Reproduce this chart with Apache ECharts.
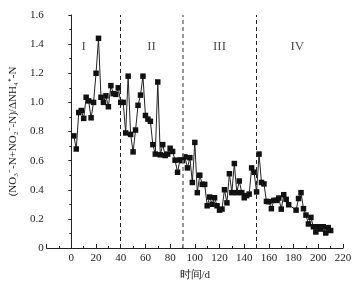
<!DOCTYPE html>
<html><head><meta charset="utf-8">
<script src="https://cdn.jsdelivr.net/npm/echarts@6/dist/echarts.min.js"></script>
<style>html,body{margin:0;padding:0;background:#fff}#c{width:358px;height:286px}</style>
</head><body><div id="c"></div>
<script>
var days = [2,4,6,8,10,12,14,16,18,20,22,24,26,28,30,32,34,36,38,40,42,44,46,48,50,52,54,56,58,60,62,64,66,68,70,72,74,76,78,80,82,84,86,88,90,92,94,96,98,100,102,104,106,108,110,112,114,116,118,120,122,124,126,128,130,132,134,136,138,140,142,144,146,148,150,152,154,156,158,160,162,164,166,168,170,172,174,176,182,184,186,188,190,192,194,196,198,200,202,204,206,208,210];
var ratio = [0.77,0.68,0.93,0.944,0.89,1.035,1.01,0.894,1.0,1.2,1.44,1.035,1.0,1.045,0.97,1.115,1.06,1.055,1.1,1.0,1.0,0.79,1.18,0.78,0.66,0.81,0.98,1.05,1.18,0.91,0.885,0.87,0.71,0.645,1.14,0.64,0.71,0.635,0.645,0.685,0.663,0.603,0.52,0.605,0.6,0.626,0.55,0.62,0.45,0.725,0.38,0.5,0.437,0.437,0.29,0.35,0.3,0.345,0.29,0.26,0.267,0.4,0.31,0.51,0.38,0.58,0.38,0.46,0.38,0.345,0.36,0.37,0.55,0.52,0.385,0.645,0.45,0.44,0.32,0.318,0.27,0.327,0.327,0.343,0.267,0.366,0.334,0.297,0.26,0.34,0.38,0.27,0.226,0.165,0.21,0.146,0.11,0.146,0.13,0.146,0.103,0.14,0.12];
var phaseBounds = [40, 90, 150];
var phaseNames = ['I','II','III','IV'];
var phaseLabelX = [10, 65, 120, 183];
var xTicks = [0,20,40,60,80,100,120,140,160,180,200,220];

var font = 'Liberation Serif';
var chart = echarts.init(document.getElementById('c'), null, {renderer:'canvas'});
var pts = days.map(function(d,i){return [d, ratio[i]];});
chart.setOption({
  animation:false,
  grid:{left:43,right:15,top:15,bottom:38},
  xAxis:{type:'value',min:-20,max:220,interval:20,
    name:'时间/d',nameLocation:'middle',nameGap:22,
    nameTextStyle:{fontFamily:font,fontSize:11,color:'#222'},
    axisLine:{lineStyle:{color:'#222',width:1}},
    axisTick:{inside:true,length:4,lineStyle:{color:'#222'}},
    minorTick:{show:true,splitNumber:2,length:2,lineStyle:{color:'#222'}},
    splitLine:{show:false},
    axisLabel:{fontFamily:font,fontSize:11,color:'#222',margin:5,
      formatter:function(v){return xTicks.indexOf(v)>=0?String(v):'';}}
  },
  yAxis:{type:'value',min:0,max:1.6,interval:0.2,
    name:'(NO₃⁻-N+NO₂⁻-N)/ΔNH₄⁺-N',nameLocation:'middle',nameGap:27,nameRotate:90,
    nameTextStyle:{fontFamily:font,fontSize:11,color:'#222'},
    axisLine:{show:true,lineStyle:{color:'#222',width:1}},
    axisTick:{show:true,inside:false,length:3,lineStyle:{color:'#222'}},
    minorTick:{show:true,splitNumber:2,length:2,lineStyle:{color:'#222'}},
    splitLine:{show:false},
    axisLabel:{fontFamily:font,fontSize:11,color:'#222',margin:3,
      formatter:function(v){return v===0?'0':v.toFixed(1);}}
  },
  series:[
    {type:'line',data:pts,symbol:'rect',symbolSize:5.5,
      lineStyle:{color:'#222',width:1},itemStyle:{color:'#111'},
      markLine:{silent:true,symbol:'none',label:{show:false},
        data:phaseBounds.map(function(b,i){return {xAxis:b,lineStyle:{type:[4,3],color:i===1?'#777':'#222',width:i===1?1.5:1}};})
      }
    },
    {type:'scatter',symbolSize:0,silent:true,
      data:phaseNames.map(function(n,i){return {value:[phaseLabelX[i],1.38],name:n};}),
      label:{show:true,position:'inside',formatter:'{b}',fontFamily:font,fontSize:13,color:'#222'}
    }
  ]
});
</script></body></html>
